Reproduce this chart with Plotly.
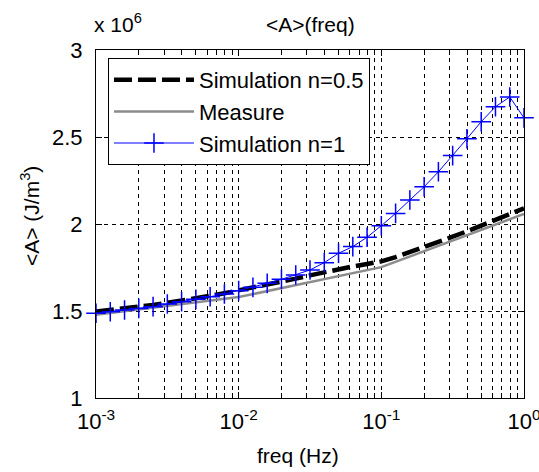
import plotly.graph_objects as go

# ---- data ----
freq = [0.001, 0.001259, 0.001585, 0.001995, 0.002512, 0.003162, 0.003981, 0.005012,
        0.00631, 0.007943, 0.01, 0.01259, 0.01585, 0.01995, 0.02512, 0.03162, 0.03981,
        0.05012, 0.0631, 0.07943, 0.1, 0.1259, 0.1585, 0.1995, 0.2512, 0.3162, 0.3981,
        0.5012, 0.631, 0.7943, 1.0]

sim_n05 = [1.497, 1.505, 1.514, 1.524, 1.535, 1.547, 1.559, 1.572, 1.587, 1.602, 1.618,
           1.634, 1.651, 1.668, 1.686, 1.705, 1.723, 1.740, 1.756, 1.770, 1.785, 1.810,
           1.838, 1.868, 1.897, 1.927, 1.958, 1.990, 2.022, 2.055, 2.090]

meas_freq = [0.001, 0.01, 0.1, 1.0]
measure = [1.478, 1.580, 1.752, 2.058]

sim_n1 = [1.487, 1.496, 1.506, 1.515, 1.525, 1.540, 1.553, 1.567, 1.582, 1.598, 1.617,
          1.636, 1.659, 1.682, 1.707, 1.736, 1.778, 1.832, 1.870, 1.924, 1.990, 2.061,
          2.138, 2.214, 2.300, 2.393, 2.490, 2.588, 2.674, 2.730, 2.610]

x_tickvals = [0.001, 0.01, 0.1, 1]
x_ticktext = ["10<sup>-3</sup>", "10<sup>-2</sup>", "10<sup>-1</sup>", "10<sup>0</sup>"]
y_tickvals = [1, 1.5, 2, 2.5, 3]
y_ticktext = ["1", "1.5", "2", "2.5", "3"]

FONT = "Arial, Liberation Sans, sans-serif"

fig = go.Figure()
fig.add_trace(go.Scatter(x=freq, y=sim_n05, mode="lines", name="Simulation n=0.5",
                         line=dict(color="black", width=4.5, dash="18px,6px")))
fig.add_trace(go.Scatter(x=meas_freq, y=measure, mode="lines", name="Measure",
                         line=dict(color="#8c8c8c", width=2.5)))
fig.add_trace(go.Scatter(x=freq, y=sim_n1, mode="lines+markers", name="Simulation n=1",
                         line=dict(color="#0000ff", width=1),
                         marker=dict(symbol="cross-thin", size=14,
                                     line=dict(color="#0000ff", width=1.5)),
                         cliponaxis=False))

fig.update_layout(
    template="none",
    width=539, height=472,
    margin=dict(l=96, r=15, t=50, b=74),
    paper_bgcolor="white", plot_bgcolor="white",
    font=dict(family=FONT, size=22, color="black"),
    showlegend=True,
    legend=dict(x=0.028, y=0.977, xanchor="left", yanchor="top",
                bgcolor="white", bordercolor="black", borderwidth=1,
                font=dict(family=FONT, size=22, color="black"),
                itemwidth=80, tracegroupgap=0),
    annotations=[
        dict(text="&lt;A&gt;(freq)", xref="paper", yref="paper", x=0.5, y=1,
             xanchor="center", yanchor="bottom", yshift=12, showarrow=False,
             font=dict(family=FONT, size=21)),
        dict(text="x 10<sup>6</sup>", xref="paper", yref="paper", x=0, y=1,
             xanchor="left", yanchor="bottom", yshift=12, xshift=-4, showarrow=False,
             font=dict(family=FONT, size=21)),
        dict(text="freq (Hz)", xref="paper", yref="paper", x=0.5, y=0,
             xanchor="center", yanchor="middle", xshift=-12, yshift=-57, showarrow=False,
             font=dict(family=FONT, size=21)),
        dict(text="&lt;A&gt; (J/m<sup>3</sup>)", xref="paper", yref="paper", x=0, y=0.5,
             xanchor="center", yanchor="middle", xshift=-66, yshift=8, textangle=-90,
             showarrow=False, font=dict(family=FONT, size=21)),
    ],
)

fig.update_xaxes(
    type="log", range=[-3, 0], automargin=False,
    tickvals=x_tickvals, ticktext=x_ticktext,
    ticks="inside", ticklen=6, tickcolor="black", tickwidth=1,
    showline=True, linecolor="black", linewidth=1, mirror="ticks",
    showgrid=True, gridcolor="black", gridwidth=1, griddash="4px,4px",
    minor=dict(dtick="D1", ticks="inside", ticklen=5, tickcolor="black",
               showgrid=True, gridcolor="black", gridwidth=1, griddash="4px,4px"),
    zeroline=False, tickfont=dict(size=22), ticklabeloverflow="allow",
    ticklabelstandoff=4,
)
fig.update_yaxes(
    range=[1, 3], tickvals=y_tickvals, ticktext=y_ticktext, automargin=False,
    ticks="inside", ticklen=6, tickcolor="black", tickwidth=1,
    showline=True, linecolor="black", linewidth=1, mirror="ticks",
    showgrid=True, gridcolor="black", gridwidth=1, griddash="4px,4px",
    zeroline=False, tickfont=dict(size=22), ticklabeloverflow="allow",
    ticklabelstandoff=8,
)

fig.write_html("out.html", config={"displayModeBar": False},
               post_script="document.body.style.margin='0';document.body.style.padding='0';")
